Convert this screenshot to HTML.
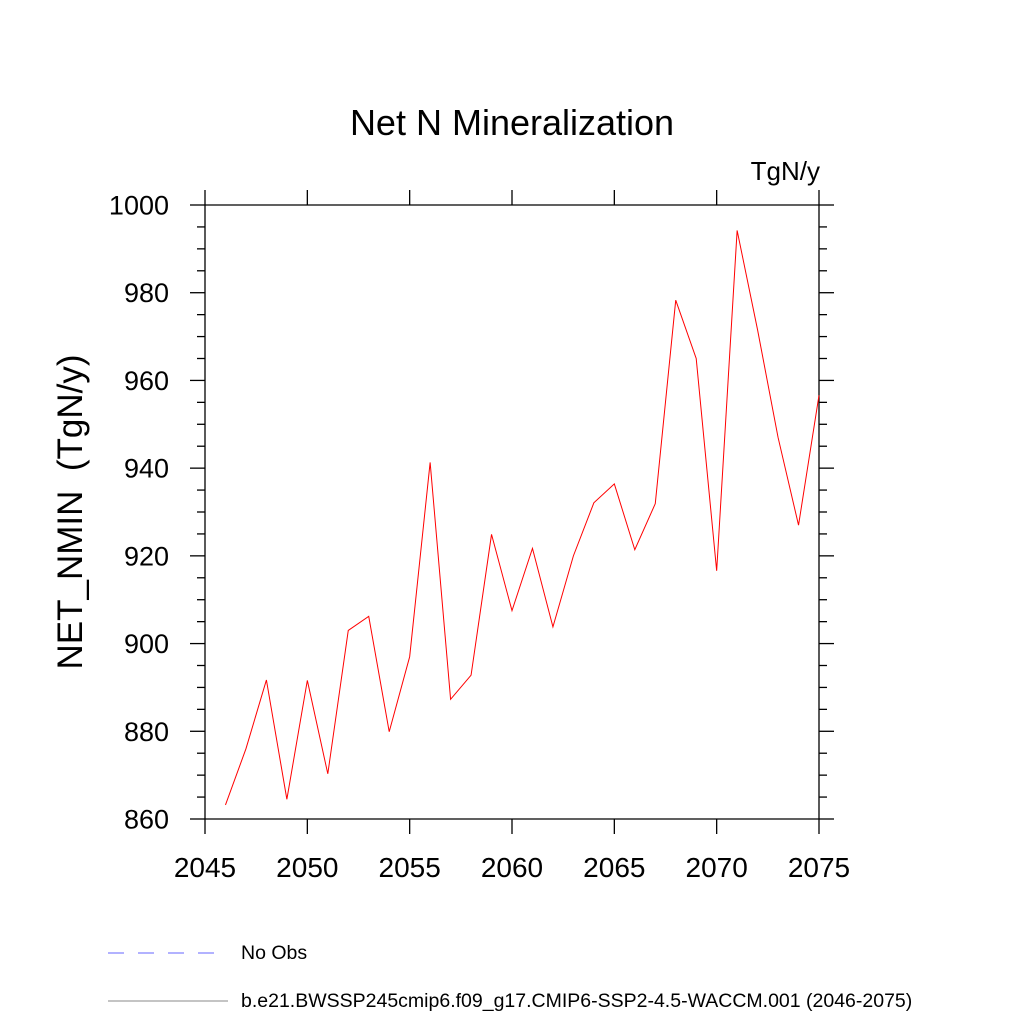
<!DOCTYPE html>
<html><head><meta charset="utf-8"><style>
html,body{margin:0;padding:0;background:#fff;}
svg{display:block;font-family:"Liberation Sans",Arial,sans-serif;}
</style></head><body>
<svg id="chart" width="1024" height="1024" viewBox="0 0 1024 1024" xmlns="http://www.w3.org/2000/svg">
<rect width="1024" height="1024" fill="#fff"/>
<text x="512" y="135" font-size="36" text-anchor="middle">Net N Mineralization</text>
<text x="820" y="180" font-size="26" text-anchor="end">TgN/y</text>
<text transform="translate(82,512) rotate(-90)" font-size="35" text-anchor="middle" style="white-space:pre" xml:space="preserve">NET_NMIN  (TgN/y)</text>
<g id="axes"></g>
<polyline id="series" fill="none" stroke="#ff0000" stroke-width="1"/>
<line x1="108" y1="953" x2="218" y2="953" stroke="#6666ff" stroke-width="1" stroke-dasharray="16,14"/>
<text x="241" y="959" font-size="19.5">No Obs</text>
<line x1="108" y1="1001" x2="228" y2="1001" stroke="#888" stroke-width="1"/>
<text x="241" y="1007" font-size="19.5">b.e21.BWSSP245cmip6.f09_g17.CMIP6-SSP2-4.5-WACCM.001 (2046-2075)</text>
</svg>
<script>
const years=[2046,2047,2048,2049,2050,2051,2052,2053,2054,2055,2056,2057,2058,2059,2060,2061,2062,2063,2064,2065,2066,2067,2068,2069,2070,2071,2072,2073,2074,2075];
const values=[863.2,876,891.7,864.5,891.6,870.3,903,906.2,879.9,897,941.3,887.3,892.8,924.9,907.5,921.7,903.8,920,932.1,936.4,921.4,931.9,978.3,965,916.6,994.2,971.5,947,927,956.6];
const xTicks=[2045,2050,2055,2060,2065,2070,2075];
const yTicks=[860,880,900,920,940,960,980,1000];
const L=205,R=819,T=205,B=819;
const xs=v=>L+(v-2045)/(2075-2045)*(R-L);
const ys=v=>B-(v-860)/(1000-860)*(B-T);
const ns="http://www.w3.org/2000/svg";
const ax=document.getElementById('axes');
function ln(x1,y1,x2,y2,w){const l=document.createElementNS(ns,'line');l.setAttribute('x1',x1);l.setAttribute('y1',y1);l.setAttribute('x2',x2);l.setAttribute('y2',y2);l.setAttribute('stroke','#000');l.setAttribute('stroke-width',w||1.3);


ax.appendChild(l);return l;}
ln(L,T,R,T);ln(L,B,R,B);ln(L,T,L,B);ln(R,T,R,B);
xTicks.forEach(t=>{const x=xs(t);ln(x,B,x,B+15);ln(x,T,x,T-15);
const tx=document.createElementNS(ns,'text');tx.setAttribute('x',x);tx.setAttribute('y',877);tx.setAttribute('font-size',28);tx.setAttribute('text-anchor','middle');tx.textContent=t;


ax.appendChild(tx);});
for(let v=860;v<=1000;v+=5){const y=ys(v);const major=(v%20===0);const len=major?15:8;ln(L,y,L-len,y);ln(R,y,R+len,y);}
yTicks.forEach(t=>{const y=ys(t);const tx=document.createElementNS(ns,'text');tx.setAttribute('x',169);tx.setAttribute('y',y+9.5);tx.setAttribute('font-size',27);tx.setAttribute('text-anchor','end');tx.textContent=t;


ax.appendChild(tx);});
document.getElementById('series').setAttribute('points',years.map((y,i)=>xs(y)+','+ys(values[i])).join(' '));
</script>
</body></html>
